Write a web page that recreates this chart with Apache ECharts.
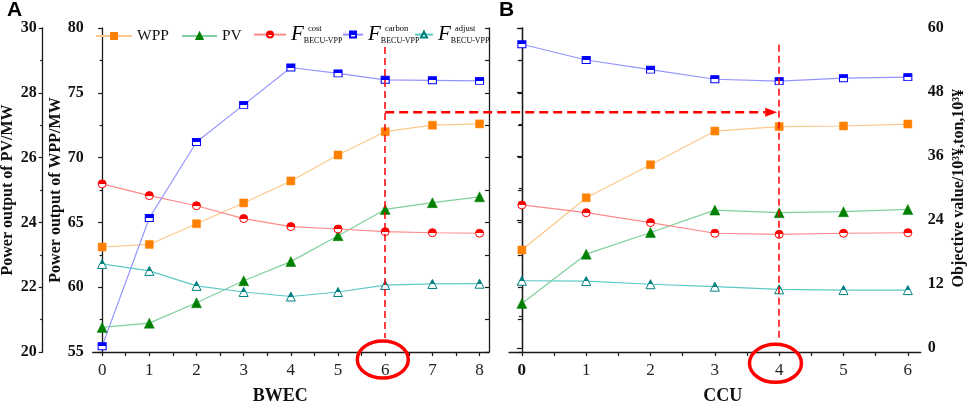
<!DOCTYPE html>
<html><head><meta charset="utf-8">
<script src="https://cdn.jsdelivr.net/npm/echarts@6/dist/echarts.min.js"></script>
<style>html,body{margin:0;padding:0;background:#fff}#c{width:969px;height:408px}</style>
</head><body><div id="c"></div>
<script>
// ---------- data ----------
const bwec = [0, 1, 2, 3, 4, 5, 6, 7, 8];
const ccu = [0, 1, 2, 3, 4, 5, 6];

const wppA = [63.1, 63.3, 64.9, 66.5, 68.2, 70.2, 72.0, 72.5, 72.6];
const pvA = [20.76, 20.89, 21.52, 22.2, 22.79, 23.59, 24.4, 24.61, 24.79];
const costA = [30.8, 28.6, 26.7, 24.3, 22.8, 22.35, 21.85, 21.65, 21.55];
const carbonA = [0.4, 24.4, 38.65, 45.6, 52.6, 51.5, 50.3, 50.2, 50.1];
const adjustA = [15.8, 14.5, 11.7, 10.55, 9.7, 10.55, 11.85, 12.05, 12.1];

const wppB = [62.87, 66.9, 69.45, 72.05, 72.39, 72.44, 72.59];
const pvB = [21.5, 23.02, 23.69, 24.38, 24.3, 24.33, 24.4];
const costB = [26.85, 25.4, 23.55, 21.55, 21.35, 21.55, 21.65];
const carbonB = [56.95, 54.0, 52.2, 50.4, 50.05, 50.6, 50.8];
const adjustB = [12.65, 12.6, 12.0, 11.55, 11.05, 10.9, 10.9];

const pvTicks = [20, 22, 24, 26, 28, 30];
const wppTicks = [55, 60, 65, 70, 75, 80];
const objTicks = [0, 12, 24, 36, 48, 60];

// annotation anchors (data units)
const chosenA = 6, chosenB = 4;
const arrowWpp = 73.5;

// ---------- style ----------
const SERIF = 'Liberation Serif';
const col = {
  wpp: '#ff8000', wppL: '#fcc78a',
  pv: '#008000', pvL: '#80cf9c',
  cost: '#ff0000', costL: '#ff8a8a',
  carb: '#0000ff', carbL: '#9494ff',
  adj: '#008080', adjL: '#5ec8c8'
};
function half(c) {
  return {type: 'linear', x: 0, y: 0, x2: 0, y2: 1, colorStops: [
    {offset: 0, color: c}, {offset: 0.5, color: c},
    {offset: 0.5, color: '#ffffff'}, {offset: 1, color: '#ffffff'}]};
}
const axLine = {show: true, lineStyle: {color: '#1a1a1a', width: 1.3}};
const tickSt = {color: '#1a1a1a', width: 1.2};
const yLab = {fontFamily: SERIF, fontWeight: 'bold', fontSize: 16, color: '#111'};
const yName = {fontFamily: SERIF, fontWeight: 'bold', fontSize: 16, color: '#111'};

const ticksA = []; for (let i = 0; i <= 16; i++) ticksA.push(i / 2);
const ticksB = []; for (let i = 0; i <= 12; i++) ticksB.push(i / 2);

function xAx(grid, max, cats, ticks, name, namePad, boldZero) {
  return {
    gridIndex: grid, type: 'value', min: -0.2, max: max,
    axisLine: axLine,
    axisTick: {show: true, customValues: ticks, length: 4, lineStyle: tickSt},
    axisLabel: {customValues: cats, fontFamily: SERIF, fontSize: 17, color: '#222', margin: 10,
      formatter: v => (boldZero && v === 0) ? '{b|0}' : String(v),
      rich: {b: {fontFamily: SERIF, fontSize: 17, fontWeight: 'bold', color: '#111'}}},
    splitLine: {show: false},
    name: name, nameLocation: 'middle', nameGap: 35.5,
    nameTextStyle: {fontFamily: SERIF, fontWeight: 'bold', fontSize: 18, color: '#111', padding: namePad}
  };
}

function lineSeries(name, xi, yi, xs, ys, sym, size, mc, lc, halfFill) {
  return {
    name: name, type: 'line', xAxisIndex: xi, yAxisIndex: yi,
    data: ys.map((v, i) => [xs[i], v]),
    symbol: sym, symbolSize: size, showSymbol: true,
    lineStyle: {color: lc, width: 1.2},
    itemStyle: halfFill ? {color: half(mc), borderColor: mc, borderWidth: 1} : {color: mc, borderColor: mc, borderWidth: 0.5},
    emphasis: {disabled: true},
    animation: false, z: 3
  };
}

const chart = echarts.init(document.getElementById('c'), null, {renderer: 'canvas'});

const legendBase = {orient: 'horizontal', padding: 0, itemGap: 0, itemHeight: 7.5,
  selectedMode: false};
const fRich = {
  s: {width: 17, fontSize: 8, lineHeight: 13.2, verticalAlign: 'middle'},
  p: {fontFamily: SERIF, fontSize: 8.5, lineHeight: 13.2, color: '#000', verticalAlign: 'middle', padding: [2, 0, 0, 0]},
  f: {fontFamily: SERIF, fontStyle: 'italic', fontSize: 21, lineHeight: 14, color: '#000', verticalAlign: 'middle', padding: [0, 0, 12.6, 0]},
  b: {fontFamily: SERIF, fontSize: 8, lineHeight: 14, color: '#000', verticalAlign: 'middle'}
};
function fLegend(name, sup, left, w) {
  return Object.assign({}, legendBase, {
    data: [name], left: left, top: 22.1, itemWidth: w,
    formatter: () => '{s|}{p|' + sup + '}\n{f|F}{b|BECU-VPP}',
    textStyle: {rich: fRich}
  });
}

const gridBase = {outerBoundsMode: 'none', containLabel: false};

const option = {
  backgroundColor: '#ffffff',
  animation: false,
  title: [
    {text: 'A', left: 7, top: 0, padding: 0, textStyle: {fontFamily: 'Liberation Sans', fontWeight: 'bold', fontSize: 21, color: '#000'}},
    {text: 'B', left: 499, top: 0, padding: 0, textStyle: {fontFamily: 'Liberation Sans', fontWeight: 'bold', fontSize: 21, color: '#000'}}
  ],
  legend: [
    Object.assign({}, legendBase, {data: ['WPP'], left: 95, top: 28, itemWidth: 36,
      textStyle: {fontFamily: SERIF, fontSize: 15.5, color: '#111', lineHeight: 16}}),
    Object.assign({}, legendBase, {data: ['PV'], left: 181, top: 28, itemWidth: 35,
      textStyle: {fontFamily: SERIF, fontSize: 15.5, color: '#111', lineHeight: 16}}),
    fLegend('Fcost', 'cost', 253, 32),
    fLegend('Fcarbon', 'carbon', 342, 20),
    fLegend('Fadjust', 'adjust', 414, 18)
  ],
  grid: [
    Object.assign({left: 92.7, top: 28, width: 396.3, height: 324}, gridBase),
    Object.assign({left: 509, top: 28, width: 411.7, height: 324}, gridBase),
    Object.assign({left: 92.7, top: 28, width: 396.3, height: 320.3}, gridBase),
    Object.assign({left: 509, top: 28, width: 411.7, height: 320.3}, gridBase)
  ],
  xAxis: [
    xAx(0, 8.2, bwec, ticksA, 'BWEC', [0, 21, 0, 0], false),
    xAx(1, 6.2, ccu, ticksB, 'CCU', [0, 0, 0, 16], true),
    {gridIndex: 2, type: 'value', min: -0.2, max: 8.2, show: false},
    {gridIndex: 3, type: 'value', min: -0.2, max: 6.2, show: false}
  ],
  yAxis: [
    { // 0 WPP (A)
      gridIndex: 0, type: 'value', position: 'left', offset: 0,
      min: wppTicks[0], max: wppTicks[wppTicks.length - 1], interval: 5,
      axisLine: axLine, axisTick: {show: true, length: 4, lineStyle: tickSt},
      minorTick: {show: true, splitNumber: 2, length: 2.5, lineStyle: tickSt},
      axisLabel: Object.assign({margin: 9}, yLab), splitLine: {show: false},
      name: 'Power output of WPP/MW', nameLocation: 'middle', nameGap: 27, nameTextStyle: yName
    },
    { // 1 PV (A)
      gridIndex: 0, type: 'value', position: 'left', offset: 50,
      min: pvTicks[0], max: pvTicks[pvTicks.length - 1], interval: 2,
      axisLine: axLine, axisTick: {show: true, length: 4, lineStyle: tickSt},
      minorTick: {show: true, splitNumber: 2, length: 2.5, lineStyle: tickSt},
      axisLabel: Object.assign({margin: 6}, yLab), splitLine: {show: false},
      name: 'Power output of PV/MW', nameLocation: 'middle', nameGap: 27, nameTextStyle: yName
    },
    { // 2 decorative right edge of A
      gridIndex: 0, type: 'value', position: 'right', min: 20, max: 30, interval: 1,
      axisLine: axLine, axisTick: {show: true, inside: true, length: 4, lineStyle: tickSt},
      axisLabel: {show: false}, splitLine: {show: false}
    },
    { // 3 objective (A) hidden
      gridIndex: 2, type: 'value', min: objTicks[0], max: objTicks[objTicks.length - 1], show: false
    },
    { // 4 WPP (B) ticks only
      gridIndex: 1, type: 'value', position: 'left', min: 55, max: 80, interval: 2.5,
      axisLine: axLine, axisTick: {show: true, length: 4, lineStyle: tickSt},
      axisLabel: {show: false}, splitLine: {show: false}
    },
    { // 5 PV (B) hidden
      gridIndex: 1, type: 'value', min: 20, max: 30, show: false
    },
    { // 6 objective (B) right axis
      gridIndex: 3, type: 'value', position: 'right',
      min: objTicks[0], max: objTicks[objTicks.length - 1], interval: 12,
      axisLine: axLine, axisTick: {show: true, inside: true, length: 5, lineStyle: tickSt},
      minorTick: {show: true, splitNumber: 2, length: 3, lineStyle: tickSt},
      axisLabel: Object.assign({margin: 7}, yLab), splitLine: {show: false},
      name: 'Objective value/10³¥,ton,10³¥', nameLocation: 'middle', nameGap: 30, nameTextStyle: yName
    }
  ],
  series: [
    lineSeries('WPP', 0, 0, bwec, wppA, 'rect', 8, col.wpp, col.wppL, false),
    Object.assign(lineSeries('PV', 0, 1, bwec, pvA, 'triangle', 10, col.pv, col.pvL, false), {
      markLine: {silent: true, symbol: ['none', 'none'], label: {show: false}, animation: false,
        lineStyle: {color: '#ff0000', type: [7, 4], width: 1.5},
        data: [[{coord: [chosenA, 29.41]}, {coord: [chosenA, 20.43]}]]}
    }),
    lineSeries('Fcost', 2, 3, bwec, costA, 'circle', 8, col.cost, col.costL, true),
    lineSeries('Fcarbon', 2, 3, bwec, carbonA, 'rect', [8, 7], col.carb, col.carbL, true),
    lineSeries('Fadjust', 2, 3, bwec, adjustA, 'triangle', 9, col.adj, col.adjL, true),

    lineSeries('WPP', 1, 4, ccu, wppB, 'rect', 8, col.wpp, col.wppL, false),
    Object.assign(lineSeries('PV', 1, 5, ccu, pvB, 'triangle', 10, col.pv, col.pvL, false), {
      markLine: {silent: true, symbol: ['none', 'none'], label: {show: false}, animation: false,
        lineStyle: {color: '#ff0000', type: [7, 4], width: 1.5},
        data: [[{coord: [chosenB, 29.48]}, {coord: [chosenB, 20.32]}]]}
    }),
    lineSeries('Fcost', 3, 6, ccu, costB, 'circle', 8, col.cost, col.costL, true),
    lineSeries('Fcarbon', 3, 6, ccu, carbonB, 'rect', [8, 7], col.carb, col.carbL, true),
    lineSeries('Fadjust', 3, 6, ccu, adjustB, 'triangle', 9, col.adj, col.adjL, true)
  ]
};
chart.setOption(option);

// ---------- annotations (positions derived from axes) ----------
const pA = chart.convertToPixel({xAxisIndex: 0, yAxisIndex: 0}, [chosenA, arrowWpp]);
const pB = chart.convertToPixel({xAxisIndex: 1, yAxisIndex: 4}, [chosenB, arrowWpp]);
const baseA = chart.convertToPixel({xAxisIndex: 0, yAxisIndex: 0}, [chosenA, 55]);
const baseB = chart.convertToPixel({xAxisIndex: 1, yAxisIndex: 4}, [chosenB, 55]);
const tipX = pB[0] - 2, headLen = 12, headH = 4.5;
chart.setOption({
  graphic: [
    {type: 'line', silent: true, z: 10,
      shape: {x1: pA[0], y1: pA[1], x2: tipX - headLen, y2: pB[1]},
      style: {stroke: '#ff0000', lineWidth: 2.5, lineDash: [9, 5]}},
    {type: 'polygon', silent: true, z: 10,
      shape: {points: [[tipX, pB[1]], [tipX - headLen, pB[1] - headH], [tipX - headLen, pB[1] + headH]]},
      style: {fill: '#ff0000'}},
    {type: 'ellipse', silent: true, z: 10,
      shape: {cx: baseA[0] - 2.4, cy: baseA[1] + 7.5, rx: 25.5, ry: 18.5},
      style: {fill: 'none', stroke: '#ff0000', lineWidth: 3.5}},
    {type: 'ellipse', silent: true, z: 10,
      shape: {cx: baseB[0] - 3.7, cy: baseB[1] + 11.3, rx: 26, ry: 19},
      style: {fill: 'none', stroke: '#ff0000', lineWidth: 3.5}}
  ]
});
</script>
</body></html>
